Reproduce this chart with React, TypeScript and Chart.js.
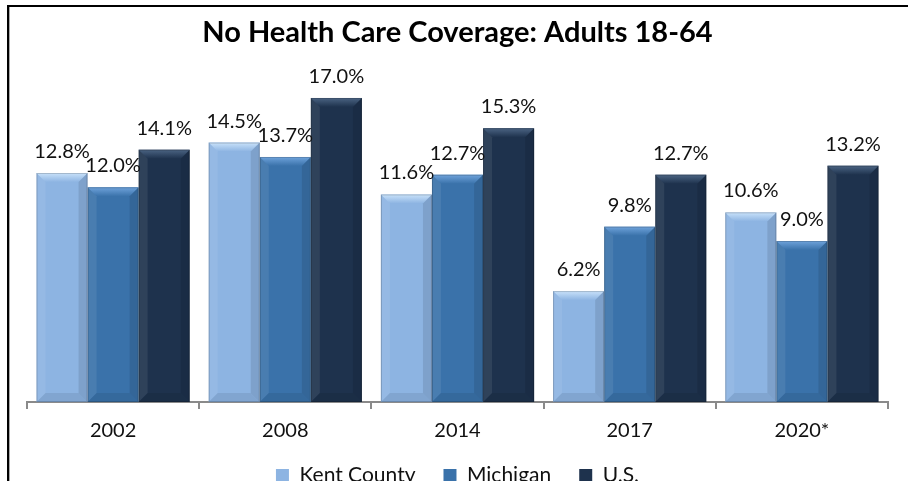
import React, { useEffect, useRef } from "react";
import { Chart, registerables } from "chart.js";

Chart.register(...registerables);

const titleText = "No Health Care Coverage: Adults 18-64";
const categories = ["2002", "2008", "2014", "2017", "2020*"];
const seriesNames = ["Kent County", "Michigan", "U.S."];
const kentCounty = [12.8, 14.5, 11.6, 6.2, 10.6];
const michigan = [12.0, 13.7, 12.7, 9.8, 9.0];
const us = [14.1, 17.0, 15.3, 12.7, 13.2];

const baseColors = ["#8DB4E2", "#3A72AA", "#1E324D"];
const topColors = ["#C9E2FA", "#6FA3DB", "#4B6483"];

const FONT = "Lato, 'Open Sans', sans-serif";

const bevelPlugin = {
  id: "bevel",
  afterDatasetsDraw(chart: any) {
    const ctx = chart.ctx;
    ctx.save();
    chart.data.datasets.forEach((ds: any, i: number) => {
      const meta = chart.getDatasetMeta(i);
      meta.data.forEach((el: any) => {
        const w = el.width;
        const l = el.x - w / 2;
        const r = el.x + w / 2;
        const t = el.y;
        const b = el.base;
        const bv = Math.min(9, (b - t) / 2);
        const g = ctx.createLinearGradient(0, t, 0, t + bv);
        g.addColorStop(0, topColors[i]);
        g.addColorStop(1, baseColors[i]);
        ctx.fillStyle = g;
        ctx.beginPath();
        ctx.moveTo(l, t);
        ctx.lineTo(r, t);
        ctx.lineTo(r - bv, t + bv);
        ctx.lineTo(l + bv, t + bv);
        ctx.closePath();
        ctx.fill();
        ctx.fillStyle = "rgba(255,255,255,0.08)";
        ctx.beginPath();
        ctx.moveTo(l, t);
        ctx.lineTo(l + bv, t + bv);
        ctx.lineTo(l + bv, b - bv);
        ctx.lineTo(l, b);
        ctx.closePath();
        ctx.fill();
        ctx.fillStyle = "rgba(0,0,0,0.10)";
        ctx.beginPath();
        ctx.moveTo(r, t);
        ctx.lineTo(r - bv, t + bv);
        ctx.lineTo(r - bv, b - bv);
        ctx.lineTo(r, b);
        ctx.closePath();
        ctx.fill();
        ctx.fillStyle = "rgba(0,0,0,0.08)";
        ctx.beginPath();
        ctx.moveTo(l, b);
        ctx.lineTo(l + bv, b - bv);
        ctx.lineTo(r - bv, b - bv);
        ctx.lineTo(r, b);
        ctx.closePath();
        ctx.fill();
        ctx.strokeStyle = "rgba(0,0,0,0.18)";
        ctx.lineWidth = 1;
        ctx.strokeRect(l + 0.5, t + 0.5, w - 1, b - t - 1);
      });
    });
    ctx.restore();
  },
};

const valueLabelPlugin = {
  id: "valueLabels",
  afterDatasetsDraw(chart: any) {
    const ctx = chart.ctx;
    ctx.save();
    ctx.font = `20px ${FONT}`;
    ctx.fillStyle = "#111111";
    ctx.textAlign = "center";
    ctx.textBaseline = "alphabetic";
    chart.data.datasets.forEach((ds: any, i: number) => {
      const meta = chart.getDatasetMeta(i);
      meta.data.forEach((el: any, j: number) => {
        const v = ds.data[j] as number;
        ctx.fillText(v.toFixed(1) + "%", el.x, el.y - 15);
      });
    });
    ctx.restore();
  },
};

export default function App() {
  const ref = useRef<HTMLCanvasElement | null>(null);

  useEffect(() => {
    if (!ref.current) return;
    const seriesData = [kentCounty, michigan, us];
    const chart = new Chart(ref.current, {
      type: "bar",
      data: {
        labels: categories,
        datasets: seriesNames.map((name, i) => ({
          label: name,
          data: seriesData[i],
          backgroundColor: baseColors[i],
          borderWidth: 0,
          categoryPercentage: 0.89,
          barPercentage: 1.0,
        })),
      },
      options: {
        animation: false,
        responsive: false,
        maintainAspectRatio: false,
        layout: { padding: { left: 27, right: 20, top: 0, bottom: 0 } },
        plugins: {
          title: {
            display: true,
            text: titleText,
            color: "#000",
            font: { family: FONT, size: 29, weight: "bold" },
            padding: { top: 15.6, bottom: 29.6 },
          },
          legend: {
            display: true,
            position: "bottom",
            labels: {
              boxWidth: 13,
              boxHeight: 13,
              padding: 28,
              color: "#111",
              font: { family: FONT, size: 21 },
            },
          },
          tooltip: { enabled: false },
        },
        scales: {
          x: {
            grid: {
              display: true,
              drawOnChartArea: false,
              drawTicks: true,
              tickLength: 7,
              color: "#8a8a8a",
              lineWidth: 2,
              offset: true,
            },
            border: { display: true, color: "#8a8a8a", width: 2 },
            ticks: {
              color: "#111",
              padding: 10,
              font: { family: FONT, size: 20 },
            },
            afterFit: (scale: any) => {
              scale.height -= 16;
            },
          },
          y: {
            display: false,
            min: 0,
            max: 18,
          },
        },
      },
      plugins: [bevelPlugin, valueLabelPlugin],
    });
    return () => chart.destroy();
  }, []);

  return (
    <div style={{ position: "fixed", left: 0, top: 0, right: 0, bottom: 0, overflow: "hidden", background: "#fff" }}>
      <canvas ref={ref} width={908} height={496} style={{ position: "absolute", left: 0, top: 0, width: 908, height: 496 }} />
      <div
        style={{
          position: "absolute",
          left: 7,
          top: 5,
          width: 1000,
          height: 600,
          borderTop: "2px solid #000",
          borderLeft: "2px solid #000",
          boxShadow: "inset 1px 0 0 #aaa",
          pointerEvents: "none",
        }}
      />
    </div>
  );
}
